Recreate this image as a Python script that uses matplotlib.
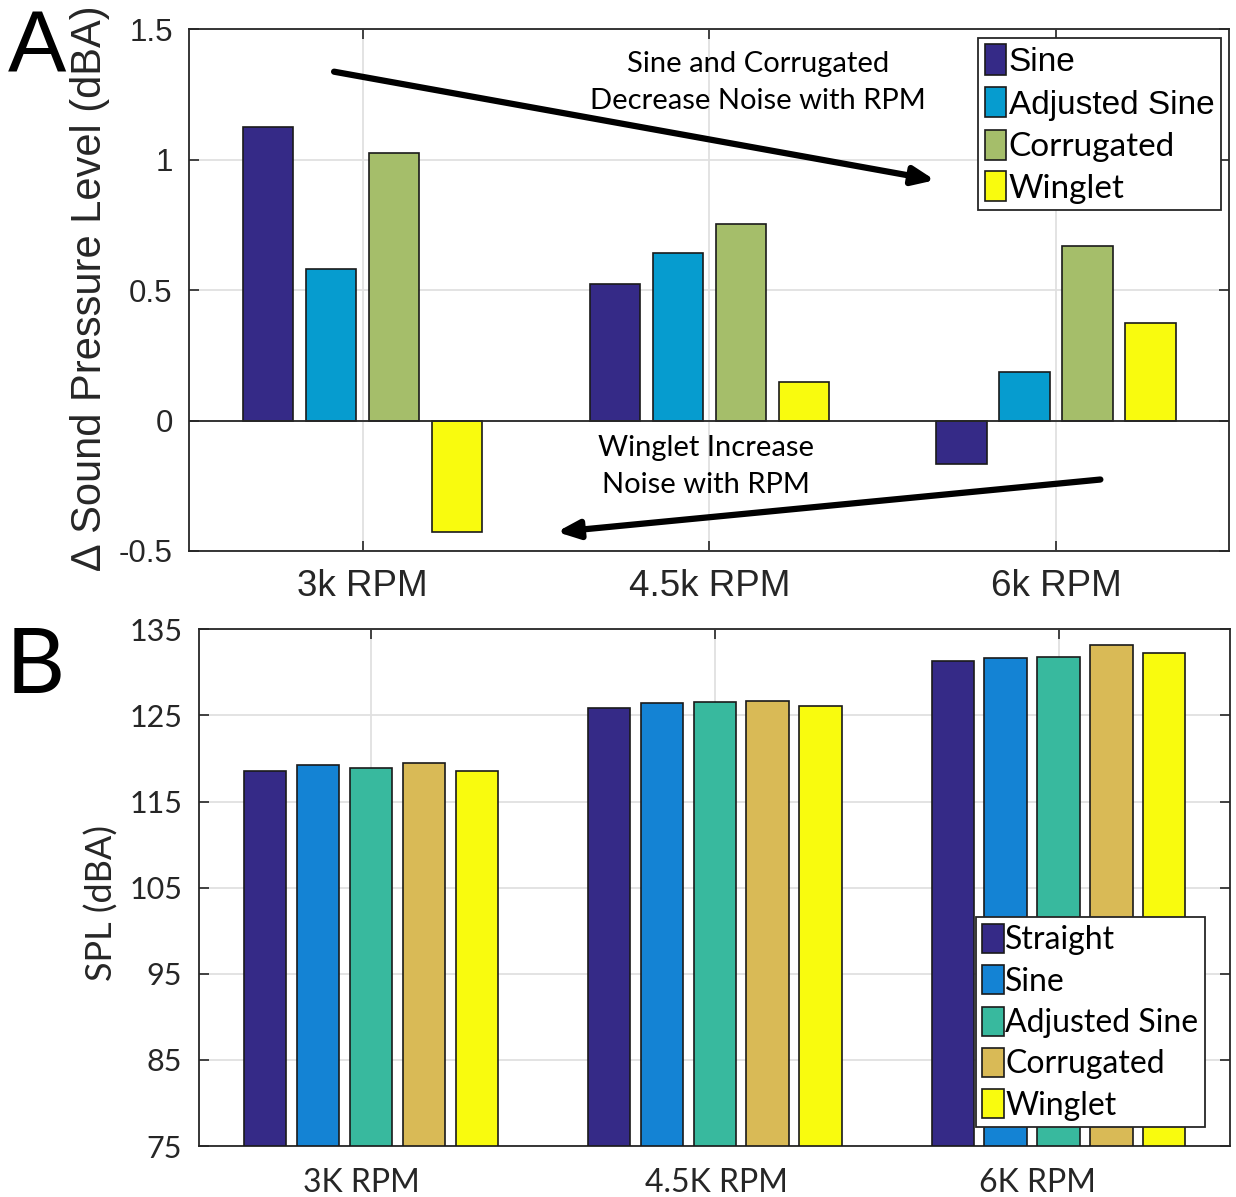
import numpy as np
import matplotlib
matplotlib.use("Agg")
import matplotlib.pyplot as plt
from matplotlib.transforms import ScaledTranslation

# panel A: change in SPL relative to straight blade
rpm_a = ['3k RPM', '4.5k RPM', '6k RPM']
a_labels = ['Sine', 'Adjusted Sine', 'Corrugated', 'Winglet']
a_sine = [1.126, 0.522, -0.168]
a_adj = [0.580, 0.641, 0.185]
a_corr = [1.026, 0.755, 0.670]
a_wing = [-0.428, 0.148, 0.373]
a_colors = ['#352a87', '#069ccf', '#a5be6a', '#f9fb0e']

# panel B: absolute SPL
rpm_b = ['3K RPM', '4.5K RPM', '6K RPM']
b_labels = ['Straight', 'Sine', 'Adjusted Sine', 'Corrugated', 'Winglet']
b_straight = [118.5, 125.8, 131.3]
b_sine = [119.2, 126.4, 131.7]
b_adj = [118.9, 126.5, 131.8]
b_corr = [119.5, 126.7, 133.2]
b_wing = [118.5, 126.1, 132.2]
b_colors = ['#352a87', '#1483d4', '#38b99e', '#d9ba56', '#f9fb0e']

ARIAL = 'Liberation Sans'
MYRIAD = 'Lato'


def grouped_bars(ax, series, colors, labels, base=0):
    # matlab style grouped bar layout
    n = len(series)
    x = np.arange(1, len(series[0]) + 1)
    gw = min(0.8, n / (n + 1.5))
    step = gw / n
    for i, (vals, c, lab) in enumerate(zip(series, colors, labels)):
        off = (i - (n - 1) / 2) * step
        ax.bar(x + off, np.array(vals) - base, width=0.8 * step, bottom=base,
               color=c, edgecolor='#1a1a1a', linewidth=1.2, label=lab, zorder=3)
    return x


def style_axes(ax):
    for s in ax.spines.values():
        s.set_color('#262626')
        s.set_linewidth(1.3)
    ax.tick_params(direction='in', length=7, width=1.2, top=True, right=True,
                   color='#262626', labelcolor='#262626')
    ax.grid(True, color='#e0e0e0', linewidth=1.3, zorder=0)
    ax.set_axisbelow(True)


fig = plt.figure(figsize=(12.36, 11.97), dpi=100)

# ---- panel A ----
axA = fig.add_axes([0.1532, 0.5397, 0.8414, 0.4357])
x = grouped_bars(axA, [a_sine, a_adj, a_corr, a_wing], a_colors, a_labels)
axA.axhline(0, color='#262626', linewidth=1.3, zorder=4)
axA.set_xlim(0.5, 3.5)
axA.set_ylim(-0.5, 1.5)
axA.set_yticks([-0.5, 0, 0.5, 1, 1.5])
axA.set_yticklabels(['-0.5', '0', '0.5', '1', '1.5'], fontsize=22.5, family=ARIAL)
axA.set_xticks(x)
axA.set_xticklabels(rpm_a, fontsize=26.5, family=ARIAL)
style_axes(axA)
axA.tick_params(axis='y', pad=12)
axA.tick_params(axis='x', pad=13)
axA.set_ylabel('\u2206 Sound Pressure Level (dBA)', fontsize=30, family=ARIAL,
               color='#262626', va='center')
axA.yaxis.set_label_coords(-0.0955, 0.504)

arrow = dict(arrowstyle='-|>,head_length=1.3,head_width=0.55',
             lw=4.5, color='black', shrinkA=0, shrinkB=0)
axA.annotate('', xy=(2.651, 0.922), xytext=(0.9175, 1.338), arrowprops=arrow, zorder=5)
axA.annotate('', xy=(1.560, -0.427), xytext=(3.128, -0.226), arrowprops=arrow, zorder=5)
axA.text(2.141, 1.296, 'Sine and Corrugated\nDecrease Noise with RPM',
         ha='center', va='center', fontsize=21, family=MYRIAD, linespacing=1.5)
axA.text(1.990, -0.176, 'Winglet Increase\nNoise with RPM',
         ha='center', va='center', fontsize=21, family=MYRIAD, linespacing=1.5)

legA = axA.legend(loc='upper right', bbox_to_anchor=(0.992, 0.984), borderaxespad=0,
                  prop={'family': ARIAL, 'size': 24}, handlelength=0.64,
                  handleheight=1.02, handletextpad=0.08, labelspacing=0.27,
                  borderpad=0.2, fancybox=False, framealpha=1, edgecolor='#262626')
legA.get_frame().set_linewidth(1.3)
for t in legA.get_texts()[2:]:
    t.set_fontfamily(MYRIAD)

# ---- panel B ----
axB = fig.add_axes([0.161, 0.0426, 0.8345, 0.4317])
x = grouped_bars(axB, [b_straight, b_sine, b_adj, b_corr, b_wing], b_colors,
                 b_labels, base=75)
axB.set_xlim(0.5, 3.5)
axB.set_ylim(75, 135)
axB.set_yticks([75, 85, 95, 105, 115, 125, 135])
axB.set_yticklabels([str(v) for v in [75, 85, 95, 105, 115, 125, 135]],
                    fontsize=22, family=MYRIAD)
axB.set_xticks(x)
axB.set_xticklabels(rpm_b, fontsize=23, family=MYRIAD)
style_axes(axB)
axB.tick_params(axis='y', pad=12)
axB.tick_params(axis='x', pad=16)
# labels in the original sit slightly off their ticks
for lab, dx in zip(axB.get_xticklabels(), [-7, 1.5, -15]):
    lab.set_transform(lab.get_transform() + ScaledTranslation(dx / 72, 0, fig.dpi_scale_trans))
axB.set_ylabel('SPL (dBA)', fontsize=26, family=MYRIAD, color='#262626', va='center')
axB.yaxis.set_label_coords(-0.094, 0.47)

legB = axB.legend(loc='lower right', bbox_to_anchor=(0.975, 0.0368), borderaxespad=0,
                  prop={'family': MYRIAD, 'size': 23}, handlelength=0.66,
                  handleheight=1.02, handletextpad=0.05, labelspacing=0.31,
                  borderpad=0.2, fancybox=False, framealpha=1, edgecolor='#262626')
legB.get_frame().set_linewidth(1.3)

# panel letters
fig.text(37.5 / 1236, 1 - 73 / 1197, 'A', ha='center', va='baseline',
         fontsize=63, family=ARIAL)
fig.text(35 / 1236, 1 - 693 / 1197, 'B', ha='center', va='baseline',
         fontsize=66, family=MYRIAD)

fig.savefig('out.png', dpi=100)
